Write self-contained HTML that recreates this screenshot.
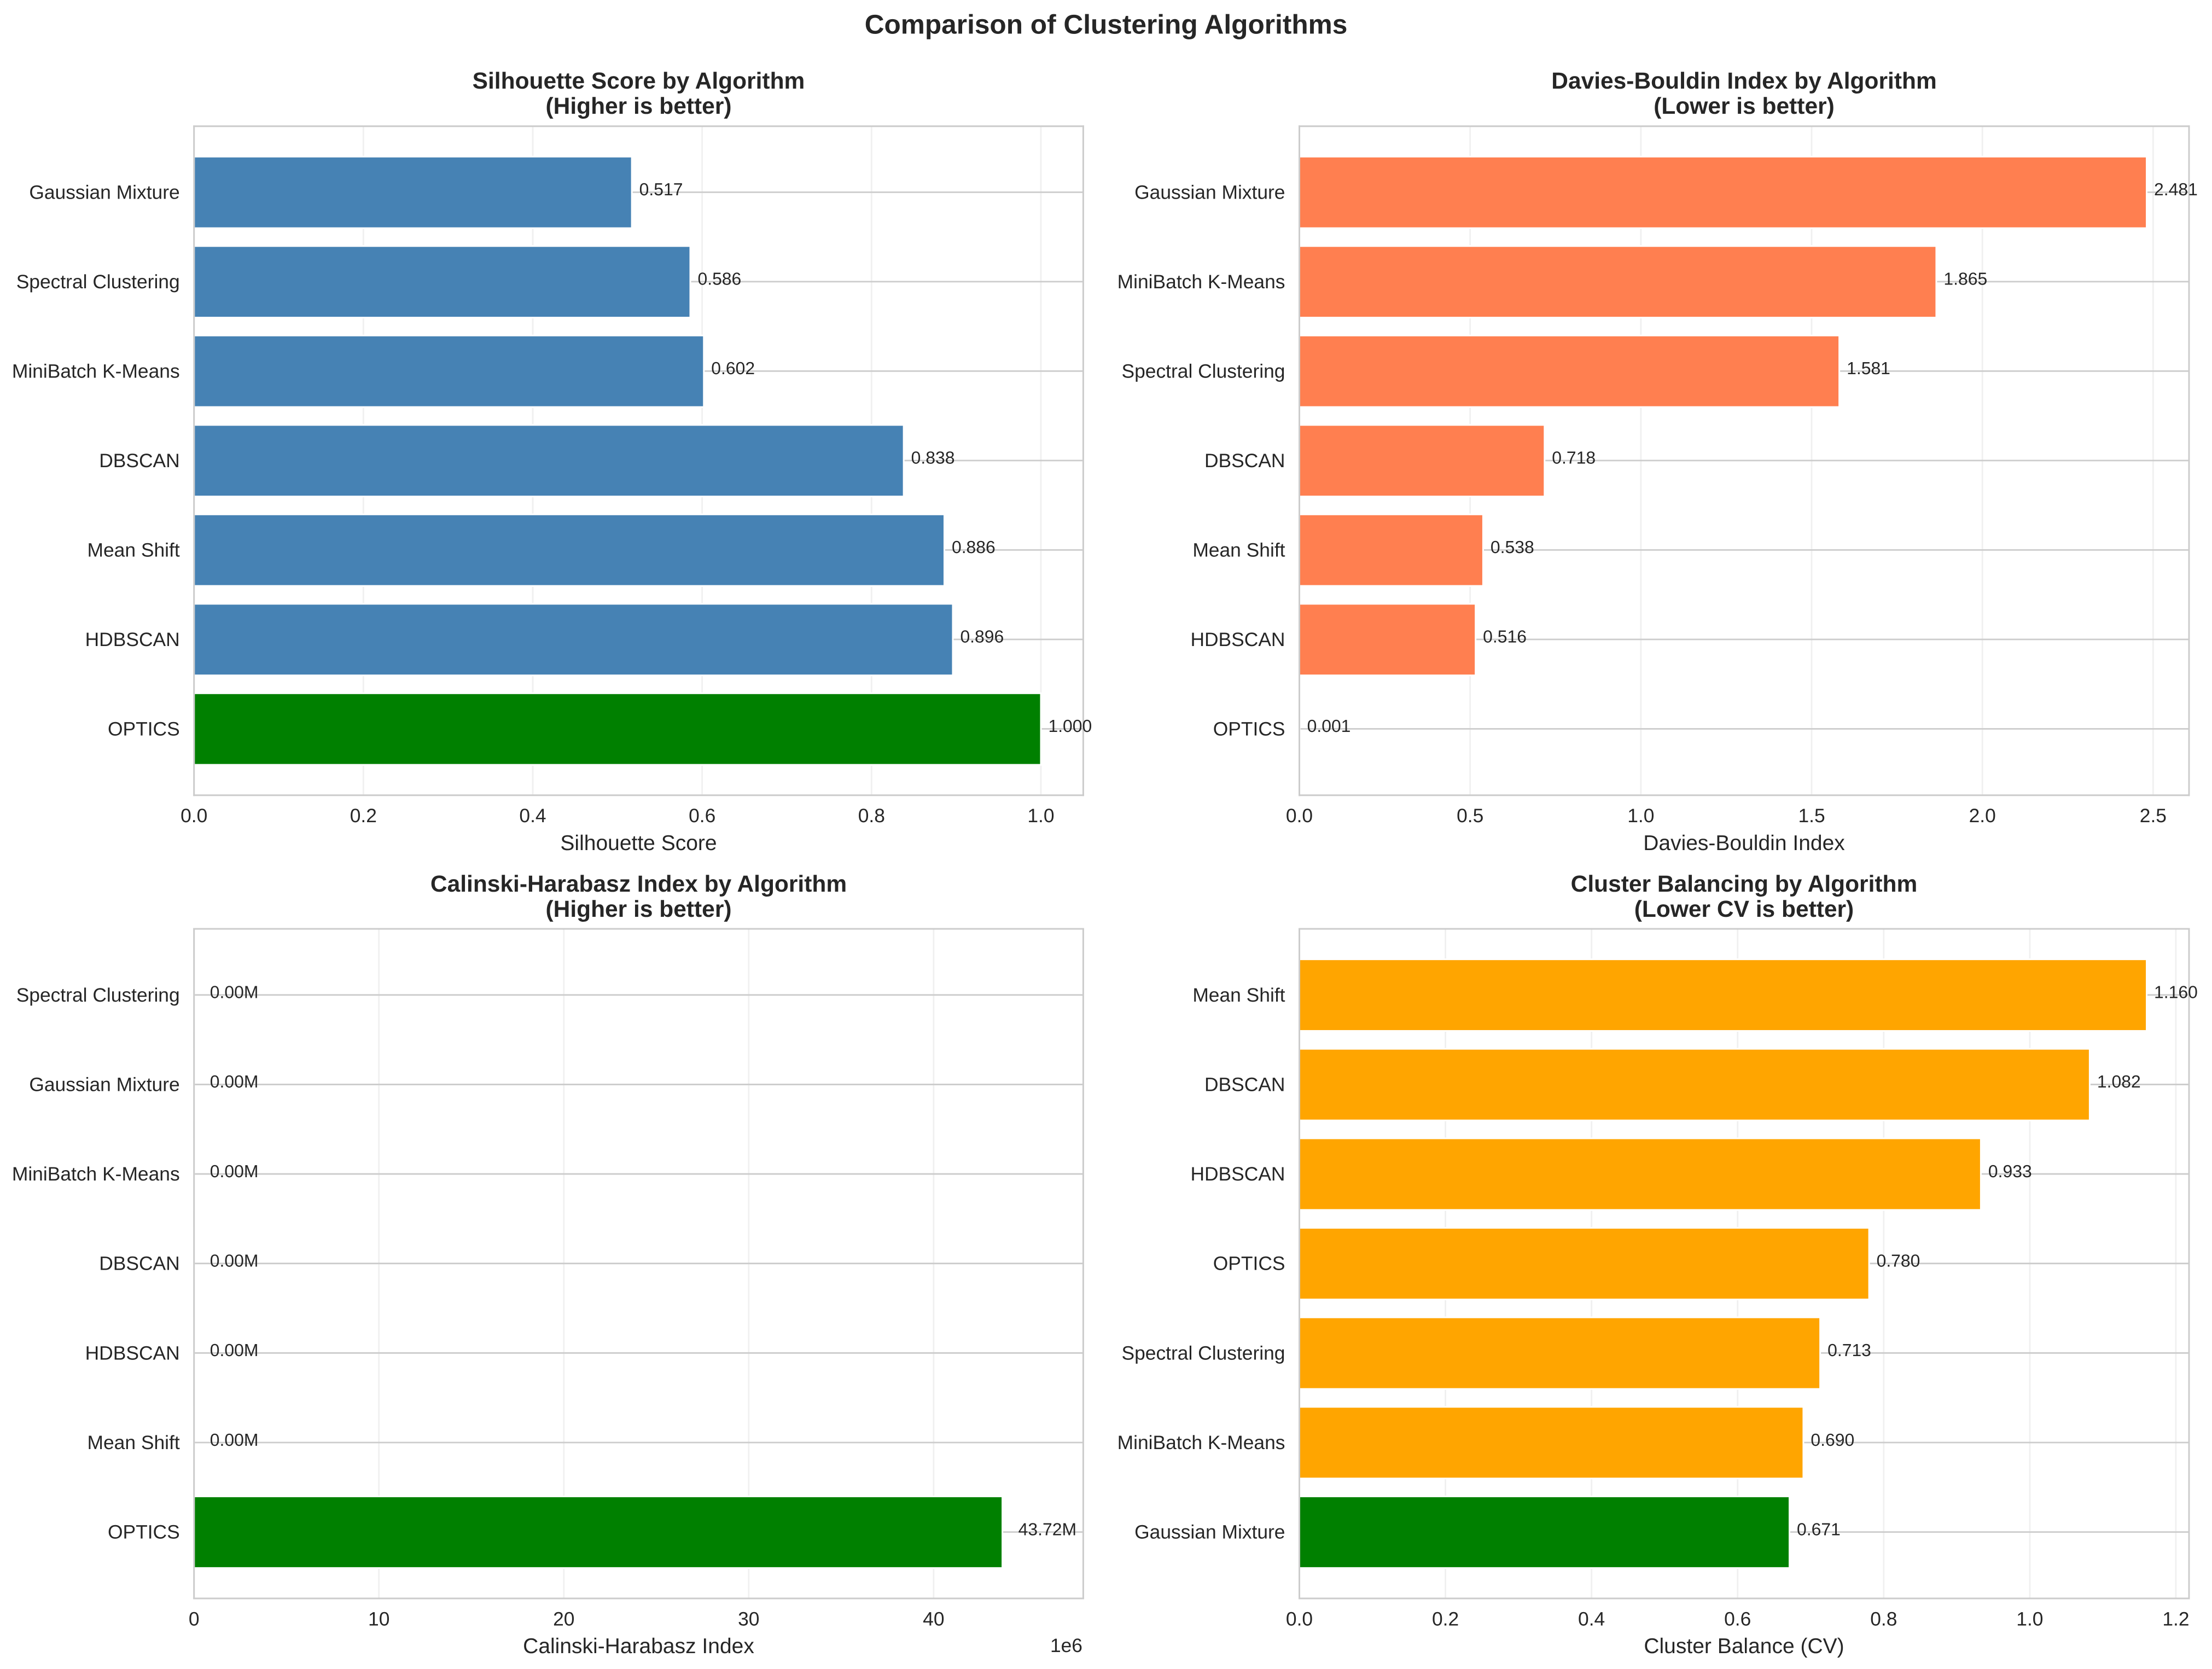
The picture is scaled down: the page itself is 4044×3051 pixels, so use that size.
<!DOCTYPE html>
<html lang="en">
<head>
<meta charset="utf-8">
<title>Comparison of Clustering Algorithms</title>
<style>
html,body{margin:0;padding:0;background:#fff;width:4044px;height:3051px;overflow:hidden}
svg{display:block}
text{font-family:"Liberation Sans",Arial,sans-serif;fill:#262626;text-rendering:geometricPrecision}
.sup{font-size:49.6px;font-weight:700;text-anchor:middle}
.ttl{font-size:42.5px;font-weight:700;text-anchor:middle}
.xl{font-size:39px;text-anchor:middle}
.tk{font-size:35.4px}
.val{font-size:31.9px}
</style>
</head>
<body>
<svg id="figure" xmlns="http://www.w3.org/2000/svg" width="4044" height="3051" viewBox="0 0 4044 3051">
  <rect x="0" y="0" width="4044" height="3051" fill="#ffffff"/>
  <text class="sup" x="2022" y="61.5">Comparison of Clustering Algorithms</text>

  <g id="panel-silhouette">
    <text class="ttl" x="1167.5" y="162">Silhouette Score by Algorithm</text>
    <text class="ttl" x="1167.5" y="208">(Higher is better)</text>
    <text class="xl" x="1167.5" y="1554">Silhouette Score</text>
  </g>
  <g id="panel-davies">
    <text class="ttl" x="3188.5" y="162">Davies-Bouldin Index by Algorithm</text>
    <text class="ttl" x="3188.5" y="208">(Lower is better)</text>
    <text class="xl" x="3188.5" y="1554">Davies-Bouldin Index</text>
  </g>
  <g id="panel-calinski">
    <text class="ttl" x="1167.5" y="1630">Calinski-Harabasz Index by Algorithm</text>
    <text class="ttl" x="1167.5" y="1676">(Higher is better)</text>
    <text class="xl" x="1167.5" y="3022">Calinski-Harabasz Index</text>
    <text class="tk" x="1979" y="3020" text-anchor="end">1e6</text>
  </g>
  <g id="panel-balance">
    <text class="ttl" x="3188.5" y="1630">Cluster Balancing by Algorithm</text>
    <text class="ttl" x="3188.5" y="1676">(Lower CV is better)</text>
    <text class="xl" x="3188.5" y="3022">Cluster Balance (CV)</text>
  </g>
</svg>
<script>
// Silhouette panel data (listed top to bottom)
const silhouetteCategories = ["Gaussian Mixture", "Spectral Clustering", "MiniBatch K-Means", "DBSCAN", "Mean Shift", "HDBSCAN", "OPTICS"];
const silhouetteValues = [0.517, 0.586, 0.602, 0.838, 0.886, 0.896, 1.000];
const silhouetteTicks = [0, 0.2, 0.4, 0.6, 0.8, 1.0];
const silhouetteTickLabels = ["0.0", "0.2", "0.4", "0.6", "0.8", "1.0"];

// Davies-Bouldin panel data
const daviesCategories = ["Gaussian Mixture", "MiniBatch K-Means", "Spectral Clustering", "DBSCAN", "Mean Shift", "HDBSCAN", "OPTICS"];
const daviesValues = [2.481, 1.865, 1.581, 0.718, 0.538, 0.516, 0.001];
const daviesTicks = [0, 0.5, 1.0, 1.5, 2.0, 2.5];
const daviesTickLabels = ["0.0", "0.5", "1.0", "1.5", "2.0", "2.5"];

// Calinski-Harabasz panel data
const calinskiCategories = ["Spectral Clustering", "Gaussian Mixture", "MiniBatch K-Means", "DBSCAN", "HDBSCAN", "Mean Shift", "OPTICS"];
const calinskiValues = [1200, 1000, 900, 700, 500, 300, 43720000];
const calinskiTicks = [0, 10000000, 20000000, 30000000, 40000000];
const calinskiTickLabels = ["0", "10", "20", "30", "40"];

// Cluster balance panel data
const balanceCategories = ["Mean Shift", "DBSCAN", "HDBSCAN", "OPTICS", "Spectral Clustering", "MiniBatch K-Means", "Gaussian Mixture"];
const balanceValues = [1.160, 1.082, 0.933, 0.780, 0.713, 0.690, 0.671];
const balanceTicks = [0, 0.2, 0.4, 0.6, 0.8, 1.0, 1.2];
const balanceTickLabels = ["0.0", "0.2", "0.4", "0.6", "0.8", "1.0", "1.2"];

const SVG_NS = "http://www.w3.org/2000/svg";

function make(tag, attrs, parent, content) {
  const el = document.createElementNS(SVG_NS, tag);
  for (const k in attrs) el.setAttribute(k, attrs[k]);
  if (content !== undefined) el.textContent = content;
  parent.insertBefore(el, parent.firstChild === null ? null : (tag === "text" ? null : parent.querySelector("text.ttl")));
  return el;
}

function drawPanel(opts) {
  const g = document.getElementById(opts.id);
  const left = opts.left, right = opts.right, top = opts.top, bottom = opts.bottom;
  const n = opts.values.length;
  const xMax = Math.max.apply(null, opts.values) * opts.headroom;
  const labelGap = Math.max.apply(null, opts.values) * opts.labelOffset;
  const step = (bottom - top) / ((n - 1) + 0.8 + 0.1 * (n - 1 + 0.8));
  const xScale = function (v) { return left + (v / xMax) * (right - left); };
  const yScale = function (i) { return top + (0.05 * ((n - 1) + 0.8) + 0.4 + i) * step; };
  const best = opts.values.indexOf(opts.pick(opts.values));

  opts.ticks.forEach(function (t, i) {
    const x = xScale(t);
    const line = make("line", {x1: x, x2: x, y1: top, y2: bottom, stroke: "#f0f0f0", "stroke-width": 2.8}, g);
    
    
    const label = make("text", {class: "tk", x: x, y: bottom + 49.5, "text-anchor": "middle"}, g, opts.tickLabels[i]);
    
    
  });

  opts.categories.forEach(function (c, i) {
    const y = yScale(i);
    const line = make("line", {x1: left, x2: right, y1: y - 0.3, y2: y - 0.3, stroke: "#cccccc", "stroke-width": 2.8}, g);
    
    
  });

  opts.categories.forEach(function (c, i) {
    const y = yScale(i);
    const v = opts.values[i];
    const h = 0.8 * step;
    const bar = make("rect", {
      x: left, y: y - h / 2,
      width: Math.max(0, xScale(v) - left), height: h,
      fill: i === best ? "#008000" : opts.color,
      stroke: "#ffffff", "stroke-width": 3
    }, g);
    
    
  });

  [["M", left, top, right, top], ["M", left, bottom, right, bottom], ["M", left, top, left, bottom], ["M", right, top, right, bottom]].forEach(function (s) {
    const spine = make("line", {x1: s[1], y1: s[2], x2: s[3], y2: s[4], stroke: "#cccccc", "stroke-width": 3, "stroke-linecap": "square"}, g);
    
    
  });

  opts.categories.forEach(function (c, i) {
    const y = yScale(i);
    const cat = make("text", {class: "tk", x: left - 26, y: y + 11.7, "text-anchor": "end"}, g, c);
    
    
    const val = make("text", {class: "val", x: xScale(opts.values[i] + labelGap) + opts.labelNudge, y: y + 5.5}, g, opts.format(opts.values[i]));
    
    
  });
}

const threeDecimals = function (v) { return v.toFixed(3); };
const millions = function (v) { return (v / 1e6).toFixed(2) + "M"; };
const largest = function (a) { return Math.max.apply(null, a); };
const smallest = function (a) { return Math.min.apply(null, a); };

drawPanel({
  id: "panel-silhouette", left: 354.7, right: 1980.4, top: 230.7, bottom: 1453.7,
  categories: silhouetteCategories, values: silhouetteValues,
  ticks: silhouetteTicks, tickLabels: silhouetteTickLabels,
  color: "#4682B4", headroom: 1.05, labelOffset: 0.01, labelNudge: -2, format: threeDecimals, pick: largest
});
drawPanel({
  id: "panel-davies", left: 2375.5, right: 4002, top: 230.7, bottom: 1453.7,
  categories: daviesCategories, values: daviesValues,
  ticks: daviesTicks, tickLabels: daviesTickLabels,
  color: "#FF7F50", headroom: 1.05, labelOffset: 0.01, labelNudge: -2, format: threeDecimals, pick: smallest
});
drawPanel({
  id: "panel-calinski", left: 354.7, right: 1980.4, top: 1698, bottom: 2922,
  categories: calinskiCategories, values: calinskiValues,
  ticks: calinskiTicks, tickLabels: calinskiTickLabels,
  color: "#9370DB", headroom: 1.1, labelOffset: 0.02, labelNudge: -0.5, format: millions, pick: largest
});
drawPanel({
  id: "panel-balance", left: 2375.5, right: 4002, top: 1698, bottom: 2922,
  categories: balanceCategories, values: balanceValues,
  ticks: balanceTicks, tickLabels: balanceTickLabels,
  color: "#FFA500", headroom: 1.05, labelOffset: 0.01, labelNudge: -2, format: threeDecimals, pick: smallest
});
</script>
</body>
</html>
